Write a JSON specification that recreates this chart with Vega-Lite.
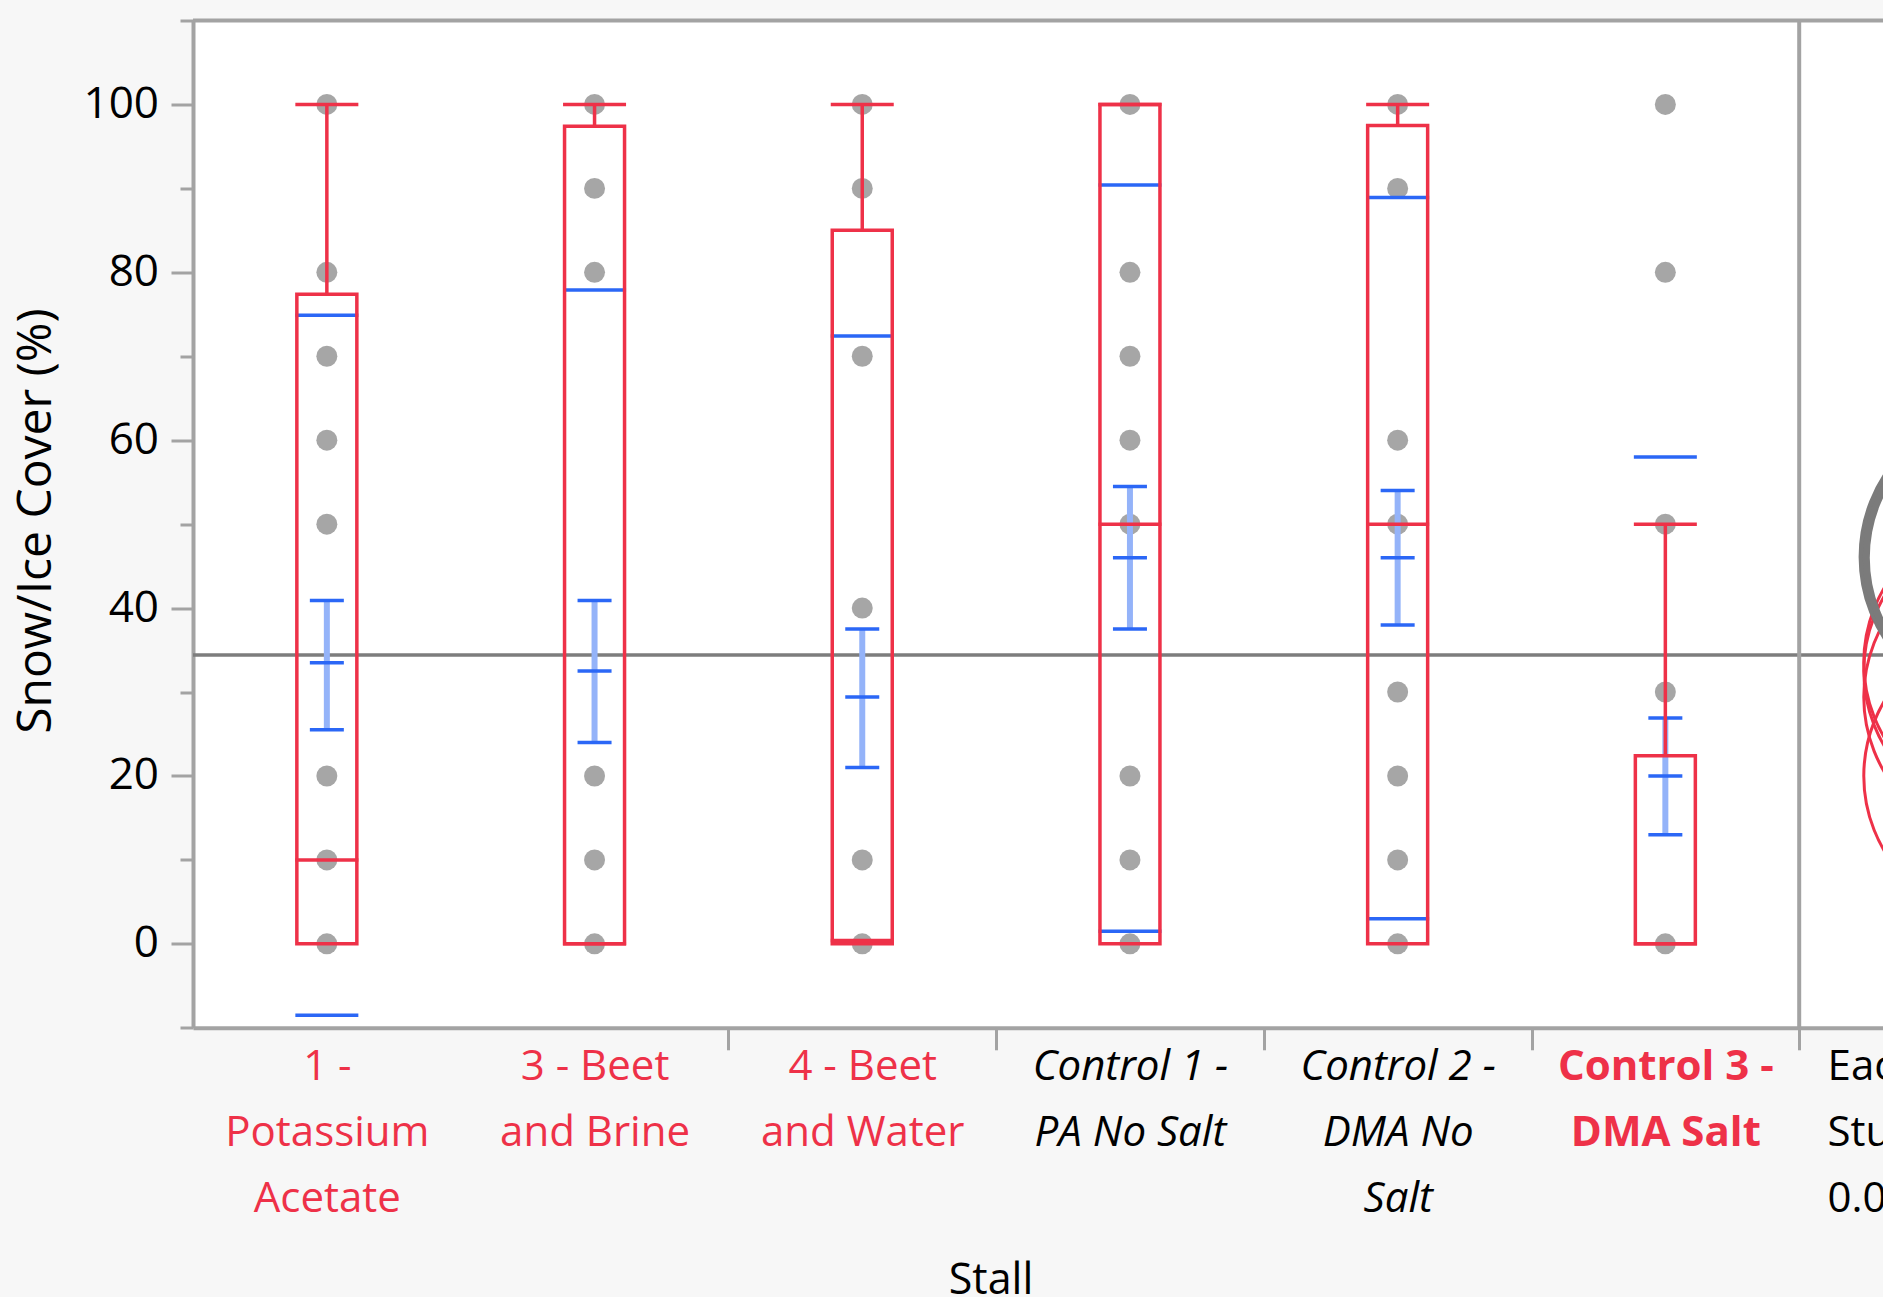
{
  "$schema": "https://vega.github.io/schema/vega-lite/v6.json",
  "width": 1690,
  "height": 1007.3,
  "autosize": {"type": "none"},
  "padding": {"left": 193, "top": 20.5, "right": 0, "bottom": 269.2},
  "background": "#f7f7f7",
  "config": {"view": {"stroke": null, "fill": "#ffffff"}, "font": "Open Sans"},
  "datasets": {
    "points": [
      {"stall": "1 - Potassium Acetate", "cover": 100},
      {"stall": "1 - Potassium Acetate", "cover": 80},
      {"stall": "1 - Potassium Acetate", "cover": 70},
      {"stall": "1 - Potassium Acetate", "cover": 60},
      {"stall": "1 - Potassium Acetate", "cover": 50},
      {"stall": "1 - Potassium Acetate", "cover": 20},
      {"stall": "1 - Potassium Acetate", "cover": 10},
      {"stall": "1 - Potassium Acetate", "cover": 0},
      {"stall": "3 - Beet and Brine", "cover": 100},
      {"stall": "3 - Beet and Brine", "cover": 90},
      {"stall": "3 - Beet and Brine", "cover": 80},
      {"stall": "3 - Beet and Brine", "cover": 20},
      {"stall": "3 - Beet and Brine", "cover": 10},
      {"stall": "3 - Beet and Brine", "cover": 0},
      {"stall": "4 - Beet and Water", "cover": 100},
      {"stall": "4 - Beet and Water", "cover": 90},
      {"stall": "4 - Beet and Water", "cover": 70},
      {"stall": "4 - Beet and Water", "cover": 40},
      {"stall": "4 - Beet and Water", "cover": 10},
      {"stall": "4 - Beet and Water", "cover": 0},
      {"stall": "Control 1 - PA No Salt", "cover": 100},
      {"stall": "Control 1 - PA No Salt", "cover": 80},
      {"stall": "Control 1 - PA No Salt", "cover": 70},
      {"stall": "Control 1 - PA No Salt", "cover": 60},
      {"stall": "Control 1 - PA No Salt", "cover": 50},
      {"stall": "Control 1 - PA No Salt", "cover": 20},
      {"stall": "Control 1 - PA No Salt", "cover": 10},
      {"stall": "Control 1 - PA No Salt", "cover": 0},
      {"stall": "Control 2 - DMA No Salt", "cover": 100},
      {"stall": "Control 2 - DMA No Salt", "cover": 90},
      {"stall": "Control 2 - DMA No Salt", "cover": 60},
      {"stall": "Control 2 - DMA No Salt", "cover": 50},
      {"stall": "Control 2 - DMA No Salt", "cover": 30},
      {"stall": "Control 2 - DMA No Salt", "cover": 20},
      {"stall": "Control 2 - DMA No Salt", "cover": 10},
      {"stall": "Control 2 - DMA No Salt", "cover": 0},
      {"stall": "Control 3 - DMA Salt", "cover": 100},
      {"stall": "Control 3 - DMA Salt", "cover": 80},
      {"stall": "Control 3 - DMA Salt", "cover": 50},
      {"stall": "Control 3 - DMA Salt", "cover": 30},
      {"stall": "Control 3 - DMA Salt", "cover": 0}
    ],
    "stats": [
      {"stall": "1 - Potassium Acetate", "q1": 0, "median": 10, "q3": 77.4, "whisker_high": 100, "mean": 33.5, "se_low": 25.5, "se_high": 40.9, "sd_low": -8.5, "sd_high": 74.9},
      {"stall": "3 - Beet and Brine", "q1": 0, "median": 0, "q3": 97.4, "whisker_high": 100, "mean": 32.5, "se_low": 24.0, "se_high": 40.9, "sd_low": null, "sd_high": 77.9},
      {"stall": "4 - Beet and Water", "q1": 0, "median": 0.4, "q3": 85.0, "whisker_high": 100, "mean": 29.4, "se_low": 21.0, "se_high": 37.5, "sd_low": null, "sd_high": 72.4},
      {"stall": "Control 1 - PA No Salt", "q1": 0, "median": 50, "q3": 100, "whisker_high": 100, "mean": 46.0, "se_low": 37.5, "se_high": 54.5, "sd_low": 1.5, "sd_high": 90.4},
      {"stall": "Control 2 - DMA No Salt", "q1": 0, "median": 50, "q3": 97.5, "whisker_high": 100, "mean": 46.0, "se_low": 38.0, "se_high": 54.0, "sd_low": 3.0, "sd_high": 88.9},
      {"stall": "Control 3 - DMA Salt", "q1": 0, "median": 0, "q3": 22.4, "whisker_high": 50, "mean": 20.0, "se_low": 13.0, "se_high": 26.9, "sd_low": null, "sd_high": 58.0}
    ],
    "circles": [
      {"stall": "1 - Potassium Acetate", "mean": 33.5, "radius": 17.5, "status": "not different"},
      {"stall": "3 - Beet and Brine", "mean": 32.5, "radius": 17.5, "status": "not different"},
      {"stall": "4 - Beet and Water", "mean": 29.4, "radius": 17.5, "status": "not different"},
      {"stall": "Control 3 - DMA Salt", "mean": 20.0, "radius": 17.5, "status": "selected"},
      {"stall": "Control 1 - PA No Salt", "mean": 46.1, "radius": 17.7, "status": "different"},
      {"stall": "Control 2 - DMA No Salt", "mean": 46.0, "radius": 17.2, "status": "different"}
    ],
    "ref": [{"grand_mean": 34.4}]
  },
  "layer": [
    {
      "layer": [
        {
          "data": {"name": "ref"},
          "mark": {"type": "rule", "color": "#7d7d7d", "strokeWidth": 3.5},
          "encoding": {"y": {"field": "grand_mean", "type": "quantitative"}}
        },
        {
          "data": {"name": "ref"},
          "mark": {"type": "rule", "color": "#a3a3a3", "strokeWidth": 4},
          "encoding": {"x": {"datum": "Each Pair Student's t 0.05", "type": "nominal", "bandPosition": 0}}
        },
        {
          "data": {"name": "points"},
          "mark": {"type": "point", "shape": "circle", "filled": true, "size": 440, "color": "#a6a6a6", "opacity": 1},
          "encoding": {
            "x": {
              "field": "stall", "type": "nominal",
              "scale": {"domain": ["1 - Potassium Acetate", "3 - Beet and Brine", "4 - Beet and Water", "Control 1 - PA No Salt", "Control 2 - DMA No Salt", "Control 3 - DMA Salt", "Each Pair Student's t 0.05"], "range": [0, 1873.9], "paddingInner": 0, "paddingOuter": 0},
              "axis": {
                "title": "Stall",
                "titleFont": "Open Sans", "titleFontSize": 43, "titleFontWeight": "normal", "titleColor": "#000000",
                "titleX": 797.5, "titleY": 265.2, "titleBaseline": "alphabetic", "titleAlign": "center",
                "domainColor": "#a3a3a3", "domainWidth": 4,
                "tickBand": "extent", "tickSize": 22, "tickWidth": 3, "tickColor": "#a3a3a3",
                "tickOpacity": {"condition": {"test": "indexof(['3 - Beet and Brine', '4 - Beet and Water', 'Control 1 - PA No Salt', 'Control 2 - DMA No Salt', 'Control 3 - DMA Salt'], datum.value) < 0", "value": 0}, "value": 1},
                "labelAngle": 0, "labelFont": "Open Sans", "labelFontSize": 42, "labelLineHeight": 66,
                "labelBaseline": "alphabetic", "labelPadding": 30, "labelLimit": 0, "labelOverlap": false, "labelBound": false, "labelFlush": false,
                "labelExpr": "datum.value === '1 - Potassium Acetate' ? ['1 -', 'Potassium', 'Acetate'] : datum.value === '3 - Beet and Brine' ? ['3 - Beet', 'and Brine'] : datum.value === '4 - Beet and Water' ? ['4 - Beet', 'and Water'] : datum.value === 'Control 1 - PA No Salt' ? ['Control 1 -', 'PA No Salt'] : datum.value === 'Control 2 - DMA No Salt' ? ['Control 2 -', 'DMA No', 'Salt'] : datum.value === 'Control 3 - DMA Salt' ? ['Control 3 -', 'DMA Salt'] : datum.value === \"Each Pair Student's t 0.05\" ? ['Each Pair', \"Student's t\", '0.05'] : ''",
                "labelColor": {"condition": {"test": "datum.value === 'Control 1 - PA No Salt' || datum.value === 'Control 2 - DMA No Salt' || datum.value === \"Each Pair Student's t 0.05\"", "value": "#000000"}, "value": "#ee3148"},
                "labelFontStyle": {"condition": {"test": "datum.value === 'Control 1 - PA No Salt' || datum.value === 'Control 2 - DMA No Salt'", "value": "italic"}, "value": "normal"},
                "labelFontWeight": {"condition": {"test": "datum.value === 'Control 3 - DMA Salt'", "value": "bold"}, "value": "normal"},
                "labelAlign": {"condition": {"test": "datum.value === \"Each Pair Student's t 0.05\"", "value": "left"}, "value": "center"},
                "labelOffset": {"condition": {"test": "datum.value === \"Each Pair Student's t 0.05\"", "value": -106}, "value": 0}
              }
            },
            "y": {
              "field": "cover", "type": "quantitative",
              "scale": {"domain": [-10, 110], "nice": false, "zero": false},
              "axis": {
                "title": "Snow/Ice Cover (%)",
                "values": [0, 20, 40, 60, 80, 100],
                "grid": false,
                "domainColor": "#a3a3a3", "domainWidth": 4,
                "tickColor": "#a3a3a3", "tickWidth": 3, "tickSize": 22,
                "labelFont": "Open Sans", "labelFontSize": 44, "labelColor": "#000000", "labelPadding": 12.5,
                "titleFont": "Open Sans", "titleFontSize": 48, "titleFontWeight": "normal", "titleColor": "#000000",
                "titleX": -143, "titleY": 500.1, "titleAngle": 270, "titleBaseline": "alphabetic", "titleAlign": "center"
              }
            }
          }
        },
        {
          "data": {"name": "stats"},
          "mark": {"type": "tick", "color": "#2b67f6", "size": 63, "thickness": 3.5, "opacity": 1},
          "encoding": {"x": {"field": "stall", "type": "nominal"}, "y": {"field": "sd_high", "type": "quantitative"}}
        },
        {
          "data": {"name": "stats"},
          "mark": {"type": "tick", "color": "#2b67f6", "size": 63, "thickness": 3.5, "opacity": 1},
          "encoding": {"x": {"field": "stall", "type": "nominal"}, "y": {"field": "sd_low", "type": "quantitative"}}
        },
        {
          "data": {"name": "stats"},
          "mark": {"type": "rule", "color": "#94b3f9", "strokeWidth": 6},
          "encoding": {"x": {"field": "stall", "type": "nominal"}, "y": {"field": "se_low", "type": "quantitative"}, "y2": {"field": "se_high"}}
        },
        {
          "data": {"name": "stats"},
          "mark": {"type": "tick", "color": "#2b67f6", "size": 34, "thickness": 3.5, "opacity": 1},
          "encoding": {"x": {"field": "stall", "type": "nominal"}, "y": {"field": "se_low", "type": "quantitative"}}
        },
        {
          "data": {"name": "stats"},
          "mark": {"type": "tick", "color": "#2b67f6", "size": 34, "thickness": 3.5, "opacity": 1},
          "encoding": {"x": {"field": "stall", "type": "nominal"}, "y": {"field": "se_high", "type": "quantitative"}}
        },
        {
          "data": {"name": "stats"},
          "mark": {"type": "tick", "color": "#2b67f6", "size": 34, "thickness": 3.5, "opacity": 1},
          "encoding": {"x": {"field": "stall", "type": "nominal"}, "y": {"field": "mean", "type": "quantitative"}}
        },
        {
          "data": {"name": "stats"},
          "mark": {"type": "bar", "filled": false, "color": "#ee3148", "strokeWidth": 3.5, "width": 60},
          "encoding": {"x": {"field": "stall", "type": "nominal"}, "y": {"field": "q1", "type": "quantitative"}, "y2": {"field": "q3"}}
        },
        {
          "data": {"name": "stats"},
          "mark": {"type": "rule", "color": "#ee3148", "strokeWidth": 3.5},
          "encoding": {"x": {"field": "stall", "type": "nominal"}, "y": {"field": "q3", "type": "quantitative"}, "y2": {"field": "whisker_high"}}
        },
        {
          "data": {"name": "stats"},
          "mark": {"type": "tick", "color": "#ee3148", "size": 63, "thickness": 3.5, "opacity": 1},
          "encoding": {"x": {"field": "stall", "type": "nominal"}, "y": {"field": "whisker_high", "type": "quantitative"}}
        },
        {
          "data": {"name": "stats"},
          "mark": {"type": "tick", "color": "#ee3148", "size": 63, "thickness": 3.5, "opacity": 1},
          "encoding": {"x": {"field": "stall", "type": "nominal"}, "y": {"field": "median", "type": "quantitative"}}
        },
        {
          "data": {"name": "circles"},
          "transform": [{"filter": "datum.status != 'different'"}],
          "mark": {"type": "point", "shape": "circle", "filled": false, "stroke": "#ee3148", "strokeWidth": 3, "opacity": 1},
          "encoding": {
            "x": {"datum": "Each Pair Student's t 0.05", "type": "nominal", "bandPosition": 0.79},
            "y": {"field": "mean", "type": "quantitative"},
            "size": {"field": "radius", "type": "quantitative", "scale": {"type": "pow", "exponent": 2, "domain": [0, 20], "range": [0, 112735]}, "legend": null}
          }
        },
        {
          "data": {"name": "circles"},
          "transform": [{"filter": "datum.status == 'different'"}],
          "mark": {"type": "point", "shape": "circle", "filled": false, "stroke": "#7b7b7b", "strokeWidth": 7, "opacity": 1},
          "encoding": {
            "x": {"datum": "Each Pair Student's t 0.05", "type": "nominal", "bandPosition": 0.79},
            "y": {"field": "mean", "type": "quantitative"},
            "size": {"field": "radius", "type": "quantitative", "scale": {"type": "pow", "exponent": 2, "domain": [0, 20], "range": [0, 112735]}, "legend": null}
          }
        }
      ]
    },
    {
      "data": {"name": "ref"},
      "mark": {"type": "rule", "color": "#a3a3a3", "strokeWidth": 4},
      "encoding": {
        "y": {
          "datum": 110, "type": "quantitative",
          "scale": {"domain": [-10, 110], "nice": false, "zero": false},
          "axis": {"title": null, "orient": "left", "values": [-10, 10, 30, 50, 70, 90, 110], "labels": false, "domain": false, "grid": false, "tickColor": "#a3a3a3", "tickWidth": 3, "tickSize": 13}
        }
      }
    }
  ],
  "resolve": {"axis": {"y": "independent"}}
}
